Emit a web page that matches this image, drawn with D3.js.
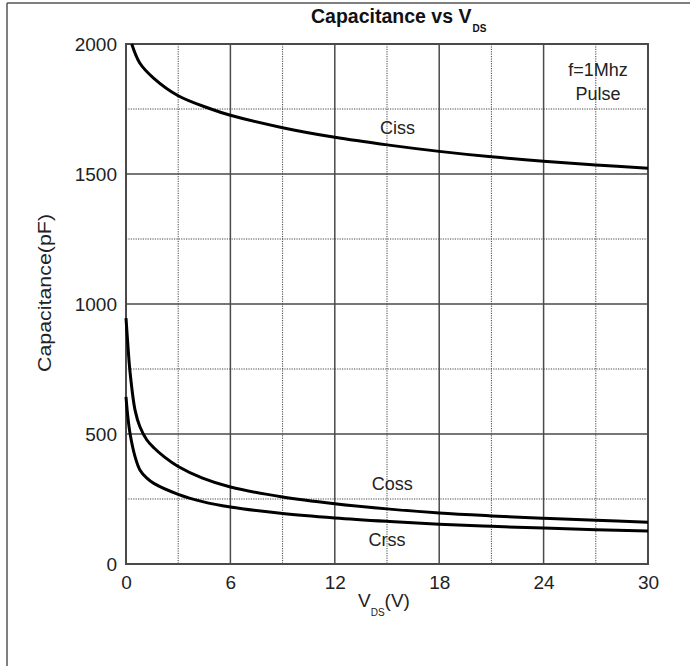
<!DOCTYPE html>
<html>
<head>
<meta charset="utf-8">
<script src="https://cdn.jsdelivr.net/npm/d3@7"></script>
<style>
  html, body { margin: 0; padding: 0; background: #fff; }
  svg { display: block; font-family: "Liberation Sans", Arial, sans-serif; }
</style>
</head>
<body>
<svg id="chart" width="690" height="666"></svg>
<script>
// ---- data ----
const cissV = [0.33, 0.8, 1.6, 3, 4.8, 6, 9, 12, 15, 18, 21, 24, 27, 30];
const ciss  = [2000, 1926, 1868, 1801, 1752, 1726, 1678, 1641, 1612, 1587, 1566, 1549, 1535, 1522];

const cossV = [0, 0.1, 0.23, 0.52, 0.8, 1.2, 1.6, 2.2, 3, 4.4, 6, 9, 12, 15, 18, 21, 24, 27, 30];
const coss  = [946, 850, 740, 592, 528, 477, 447, 412, 375, 330, 296, 258, 232, 212, 196, 185, 176, 168, 161];

const crssV = [0, 0.1, 0.23, 0.52, 0.8, 1.2, 1.6, 3, 4.4, 6, 9, 12, 15, 18, 21, 24, 27, 30];
const crss  = [643, 570, 503, 413, 362, 330, 310, 268, 240, 219, 194, 177, 164, 153, 145, 138, 132, 127];

const xTicks = [0, 6, 12, 18, 24, 30];
const xMinor = [3, 9, 15, 21, 27];
const yTicks = [0, 500, 1000, 1500, 2000];
const yMinor = [250, 750, 1250, 1750];

const titleMain = "Capacitance vs V";
const titleSub = "DS";
const yLabel = "Capacitance(pF)";
const notes = [
  {text: "Ciss", v: 15.6, c: 1654},
  {text: "Coss", v: 15.3, c: 285},
  {text: "Crss", v: 15.0, c: 70},
];
const cond = ["f=1Mhz", "Pulse"];

// ---- layout ----
const svg = d3.select("#chart");
const x = d3.scaleLinear().domain([0, 30]).range([126, 648]);
const y = d3.scaleLinear().domain([0, 2000]).range([564, 44]);
const gridCol = "#4a4a4a";
const textCol = "#222";

// page border (left and top)
svg.append("line").attr("x1", 7).attr("x2", 7).attr("y1", 3).attr("y2", 666)
  .attr("stroke", "#555").attr("stroke-width", 1.5);
svg.append("line").attr("x1", 7).attr("x2", 690).attr("y1", 3).attr("y2", 3)
  .attr("stroke", "#555").attr("stroke-width", 1.5);

// dotted minor grid
const g = svg.append("g");
g.selectAll("line.vmin").data(xMinor).join("line")
  .attr("x1", d => x(d)).attr("x2", d => x(d)).attr("y1", y(2000)).attr("y2", y(0))
  .attr("stroke", "#444").attr("stroke-width", 1).attr("stroke-dasharray", "1.2,1.2");
g.selectAll("line.hmin").data(yMinor).join("line")
  .attr("y1", d => y(d)).attr("y2", d => y(d)).attr("x1", x(0)).attr("x2", x(30))
  .attr("stroke", "#444").attr("stroke-width", 1).attr("stroke-dasharray", "1.2,1.2");

// solid major grid
g.selectAll("line.vmaj").data(xTicks.slice(1, -1)).join("line")
  .attr("x1", d => x(d)).attr("x2", d => x(d)).attr("y1", y(2000)).attr("y2", y(0))
  .attr("stroke", gridCol).attr("stroke-width", 1.5);
g.selectAll("line.hmaj").data(yTicks.slice(1, -1)).join("line")
  .attr("y1", d => y(d)).attr("y2", d => y(d)).attr("x1", x(0)).attr("x2", x(30))
  .attr("stroke", gridCol).attr("stroke-width", 1.5);

// frame
svg.append("rect").attr("x", x(0)).attr("y", y(2000))
  .attr("width", x(30) - x(0)).attr("height", y(0) - y(2000))
  .attr("fill", "none").attr("stroke", gridCol).attr("stroke-width", 2);

// axes (labels only)
const xAxis = svg.append("g").attr("transform", `translate(0,${y(0)})`)
  .call(d3.axisBottom(x).tickValues(xTicks).tickFormat(d3.format("d")).tickSize(0).tickPadding(12));
const yAxis = svg.append("g").attr("transform", `translate(${x(0)},0)`)
  .call(d3.axisLeft(y).tickValues(yTicks).tickFormat(d3.format("d")).tickSize(0).tickPadding(9));
[xAxis, yAxis].forEach(a => {
  a.select(".domain").remove();
  a.selectAll("text").attr("font-size", 19).attr("fill", textCol)
    .attr("font-family", "Liberation Sans, Arial, sans-serif");
});

// curves
const line = d3.line().x(d => x(d[0])).y(d => y(d[1])).curve(d3.curveCatmullRom.alpha(0.5));
[[cissV, ciss], [cossV, coss], [crssV, crss]].forEach(([vs, cs]) => {
  svg.append("path").datum(vs.map((v, i) => [v, cs[i]]))
    .attr("d", line).attr("fill", "none").attr("stroke", "#000")
    .attr("stroke-width", 3).attr("stroke-linejoin", "round");
});

// annotations
svg.selectAll("text.note").data(notes).join("text")
  .attr("x", d => x(d.v)).attr("y", d => y(d.c))
  .attr("text-anchor", "middle").attr("font-size", 18).attr("fill", textCol)
  .text(d => d.text);
svg.selectAll("text.cond").data(cond).join("text")
  .attr("x", 598).attr("y", (d, i) => 76 + i * 24)
  .attr("text-anchor", "middle").attr("font-size", 18).attr("fill", textCol)
  .text(d => d);

// title
const t = svg.append("text").attr("x", 311).attr("y", 23)
  .attr("font-size", 19.5).attr("font-weight", "bold").attr("fill", "#111");
t.append("tspan").text(titleMain);
t.append("tspan").attr("font-size", 10).attr("dy", 9).attr("dx", 1).text(titleSub);

// x label
const xl = svg.append("text").attr("x", 358).attr("y", 607)
  .attr("font-size", 19).attr("fill", textCol);
xl.append("tspan").text("V");
xl.append("tspan").attr("font-size", 10).attr("dy", 9).text("DS");
xl.append("tspan").attr("dy", -9).text("(V)");

// y label
svg.append("text").attr("transform", "translate(51,293) rotate(-90)")
  .attr("text-anchor", "middle").attr("font-size", 19).attr("fill", textCol)
  .attr("textLength", 158).attr("lengthAdjust", "spacingAndGlyphs")
  .text(yLabel);
</script>
</body>
</html>
